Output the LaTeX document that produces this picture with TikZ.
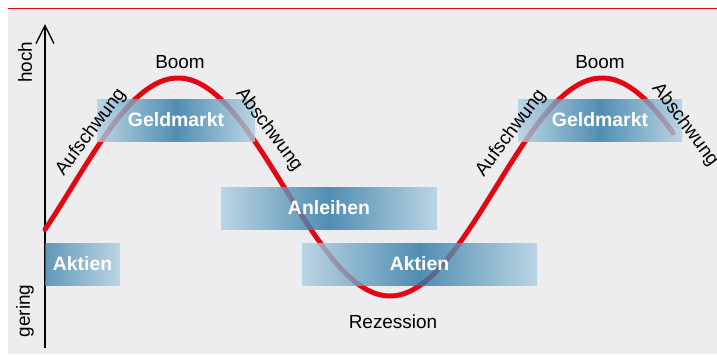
\documentclass[tikz,border=0pt]{standalone}
\usepackage{fontspec}
\setmainfont{Liberation Sans}
\usetikzlibrary{arrows.meta}
\definecolor{bg}{HTML}{EDEDF0}
\definecolor{curvered}{HTML}{E30613}
\definecolor{boxdark}{HTML}{2A76A3}
\definecolor{boxlight}{HTML}{AFCFE1}
\tikzset{
  lbl/.style={font=\fontsize{19}{21}\selectfont, text=black, inner sep=0pt},
  box/.style={minimum height=42bp, inner sep=0pt, fill opacity=0.8, text opacity=1,
    text=white, font=\fontsize{19.5}{21}\selectfont\bfseries},
  boxlmr/.style={box, left color=boxlight, right color=boxlight, middle color=boxdark},
}
\begin{document}
\begin{tikzpicture}[x=1bp,y=-1bp]
\useasboundingbox (0,0) rectangle (717,354);
\fill[white] (0,0) rectangle (717,354);
\fill[bg] (8,9) rectangle (717,354);
\draw[curvered, line width=1.5bp] (8,8.5) -- (717,8.5);
% axis
\coordinate (axbot) at (45,348);
\coordinate (axtop) at (45,24);
\draw[line width=1.4bp, -{Straight Barb[length=18bp,width=18bp,line width=1.4bp]}] (axbot) -- (axtop);
\node[lbl, rotate=90] (hoch) at (25,62) {hoch};
\node[lbl, rotate=90] (gering) at (25,311) {gering};
% curve
\draw[curvered, line width=5bp, line cap=round] plot[domain=45:673, samples=200, smooth] (\x,{187-109*cos(0.849057*(\x-178))});
% boxes
\node[boxlmr, minimum width=158bp] (geld1) at (176,120) {Geldmarkt};
\node[boxlmr, minimum width=164bp] (geld2) at (600,120) {Geldmarkt};
\node[boxlmr, minimum width=216bp] (anl) at (329,208) {Anleihen};
\node[box, minimum width=75bp, left color=boxdark!85!boxlight, right color=boxlight] (akt1) at (82.5,264) {Aktien};
\node[boxlmr, minimum width=235bp] (akt2) at (419.5,264) {Aktien};
% labels
\node[lbl] (boom1) at (180,62) {Boom};
\node[lbl] (boom2) at (600,62) {Boom};
\node[lbl] (rez) at (393,322) {Rezession};
\node[lbl, rotate=53] (auf1) at (91,132) {Aufschwung};
\node[lbl, rotate=-53] (ab1) at (269,130) {Abschwung};
\node[lbl, rotate=53] (auf2) at (511,133) {Aufschwung};
\node[lbl, rotate=-53] (ab2) at (685,125) {Abschwung};
\end{tikzpicture}
\end{document}
